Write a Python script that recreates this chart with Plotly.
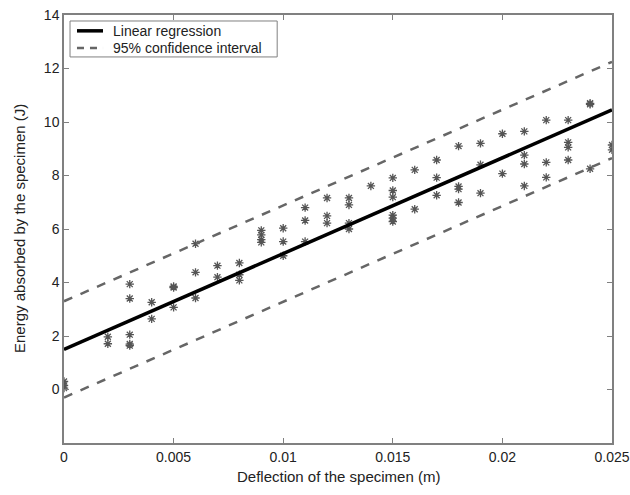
import plotly.graph_objects as go

# Measured points (deflection in m, energy in J)
x_deflection = [
    0, 0, 0,
    0.002, 0.002,
    0.003, 0.003, 0.003, 0.003, 0.003,
    0.004, 0.004,
    0.005, 0.005, 0.005,
    0.006, 0.006, 0.006,
    0.007, 0.007,
    0.008, 0.008, 0.008,
    0.009, 0.009, 0.009, 0.009,
    0.010, 0.010, 0.010,
    0.011, 0.011, 0.011,
    0.012, 0.012, 0.012,
    0.013, 0.013, 0.013, 0.013,
    0.014,
    0.015, 0.015, 0.015, 0.015, 0.015, 0.015,
    0.016, 0.016,
    0.017, 0.017, 0.017,
    0.018, 0.018, 0.018, 0.018,
    0.019, 0.019, 0.019,
    0.020, 0.020,
    0.021, 0.021, 0.021, 0.021,
    0.022, 0.022, 0.022,
    0.023, 0.023, 0.023, 0.023,
    0.024, 0.024, 0.024,
    0.025, 0.025,
]
y_energy = [
    0.3, 0.15, 0.05,
    1.97, 1.71,
    3.94, 3.40, 2.05, 1.70, 1.64,
    3.26, 2.64,
    3.85, 3.81, 3.07,
    5.45, 4.38, 3.42,
    4.63, 4.20,
    4.73, 4.29, 4.08,
    5.95, 5.78, 5.60, 5.50,
    6.03, 5.53, 5.00,
    6.80, 6.32, 5.53,
    7.16, 6.49, 6.22,
    7.16, 6.90, 6.22, 6.00,
    7.61,
    7.91, 7.44, 7.19, 6.52, 6.41, 6.28,
    8.21, 6.74,
    8.58, 7.92, 7.26,
    9.10, 7.59, 7.49, 6.99,
    9.20, 8.40, 7.34,
    9.56, 8.07,
    9.65, 8.76, 8.43, 7.61,
    10.07, 8.49, 7.93,
    10.07, 9.24, 9.05, 8.58,
    10.70, 10.66, 8.25,
    9.14, 8.96,
]

# Regression and confidence band endpoints
line_x = [0, 0.025]
regression_y = [1.5, 10.45]
ci_upper_y = [3.3, 12.25]
ci_lower_y = [-0.3, 8.65]

x_ticks = [0, 0.005, 0.01, 0.015, 0.02, 0.025]
x_tick_text = ["0", "0.005", "0.01", "0.015", "0.02", "0.025"]
y_ticks = [0, 2, 4, 6, 8, 10, 12, 14]

legend_labels = ["Linear regression", "95% confidence interval"]

REG_STYLE = dict(color="black", width=3.5)
CI_STYLE = dict(color="#666666", width=2.5, dash="dash")

fig = go.Figure()

fig.add_trace(go.Scatter(
    x=x_deflection, y=y_energy, mode="markers", showlegend=False,
    marker=dict(symbol="asterisk-open", size=7, color="#555555",
                line=dict(color="#555555", width=1.3)),
))
fig.add_trace(go.Scatter(
    x=line_x, y=regression_y, mode="lines", name=legend_labels[0],
    showlegend=False, line=REG_STYLE,
))
fig.add_trace(go.Scatter(
    x=line_x, y=ci_upper_y, mode="lines", name=legend_labels[1],
    showlegend=False, line=CI_STYLE,
))
fig.add_trace(go.Scatter(
    x=line_x, y=ci_lower_y, mode="lines", showlegend=False, line=CI_STYLE,
))

# Hand-drawn legend box (paper coordinates)
fig.add_shape(type="rect", xref="paper", yref="paper",
              x0=0.011, x1=0.389, y0=0.902, y1=0.986,
              line=dict(color="#808080", width=1), fillcolor="white",
              layer="above")
row_y = [0.963, 0.923]
fig.add_shape(type="line", xref="paper", yref="paper",
              x0=0.0237, x1=0.0712, y0=row_y[0], y1=row_y[0],
              line=REG_STYLE, layer="above")
fig.add_shape(type="line", xref="paper", yref="paper",
              x0=0.0237, x1=0.0712, y0=row_y[1], y1=row_y[1],
              line=dict(color="#666666", width=2.5, dash="7px,6px"),
              layer="above")
for lbl, yy in zip(legend_labels, row_y):
    fig.add_annotation(text=lbl, xref="paper", yref="paper", x=0.0858,
                       y=yy, xanchor="left", yanchor="middle",
                       showarrow=False, font=dict(size=14, color="#222222"))

# Axis titles
fig.add_annotation(text="Deflection of the specimen (m)", xref="paper",
                   yref="paper", x=0.5, y=0, xanchor="center",
                   yanchor="middle", yshift=-33, showarrow=False,
                   font=dict(size=15, color="#222222"))
fig.add_annotation(text="Energy absorbed by the specimen (J)", xref="paper",
                   yref="paper", x=0, y=0.5, xanchor="center",
                   yanchor="middle", xshift=-45, textangle=-90,
                   showarrow=False, font=dict(size=15, color="#222222"))

axis_common = dict(
    showgrid=False, zeroline=False, showline=True, linecolor="#808080",
    linewidth=1.5, mirror="ticks", ticks="inside", ticklen=5,
    tickcolor="#808080", tickfont=dict(size=14, color="#222222"),
    automargin=False, ticklabeloverflow="allow",
)

fig.update_layout(
    width=630, height=495,
    margin=dict(l=64, r=18, t=15, b=52),
    plot_bgcolor="white", paper_bgcolor="white",
    font=dict(family="Liberation Sans, Arial, sans-serif", color="#222222"),
    xaxis=dict(range=[0, 0.025], tickvals=x_ticks, ticktext=x_tick_text,
               **axis_common),
    yaxis=dict(range=[-2, 14], tickvals=y_ticks, **axis_common),
    showlegend=False,
)

fig.write_html(
    "out.html",
    config={"displayModeBar": False},
    post_script="document.body.style.margin='0';"
                "document.body.style.overflow='hidden';",
)
